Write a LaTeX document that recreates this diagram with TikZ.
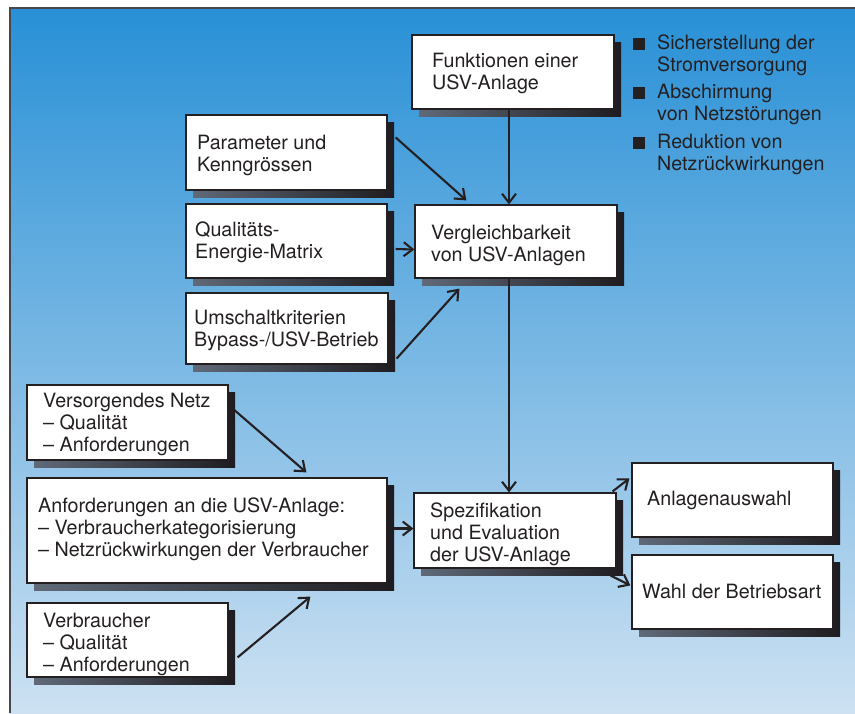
\documentclass[tikz,border=0pt]{standalone}
\usepackage{fontspec}
\setmainfont{TeX Gyre Heros}
\usetikzlibrary{arrows.meta,fit,calc}
\definecolor{txtc}{RGB}{36,32,34}
\definecolor{framec}{RGB}{70,70,75}
\definecolor{bgtop}{RGB}{40,144,214}
\definecolor{bgmid}{RGB}{90,176,232}
\definecolor{bgbot}{RGB}{205,225,242}
\definecolor{shadl}{RGB}{95,105,120}
\definecolor{shadr}{RGB}{30,28,32}
\newcommand\uvbox[5]{%
  \shade[left color=shadl, right color=shadr] (#2+7,#3+7) rectangle (#4+7,#5+7);
  \node[box, fit={(#2,#3) (#4,#5)}] (#1) {};
}
\begin{document}
\begin{tikzpicture}[x=1pt,y=-1pt,
  box/.style={draw=txtc, line width=1.2pt, fill=white, inner sep=0pt},
  tx/.style={anchor=north west, inner sep=0pt, align=left, text=txtc,
    font=\fontsize{19.7}{22}\selectfont, execute at begin node=\strut},
  arr/.style={draw=txtc, line width=2.1pt,
    -{Straight Barb[length=9pt,width=14pt,line width=2.1pt]}},
  bullet/.style={fill=txtc, inner sep=0pt, minimum size=12pt}
]
\useasboundingbox (0,0) rectangle (855,713);
\fill[white] (0,0) rectangle (855,713);
\shade[top color=bgtop, middle color=bgmid, bottom color=bgbot] (10,8) rectangle (855,713);
\draw[framec, line width=1.5pt] (10,713) -- (10,8) -- (855,8);

% boxes
\uvbox{func}{412}{35}{614}{109}
\uvbox{param}{186}{115}{387}{190}
\uvbox{qual}{186}{204}{387}{278}
\uvbox{verg}{415}{205}{617}{278}
\uvbox{umsch}{186}{293}{388}{364}
\uvbox{vers}{27}{385}{228}{460}
\uvbox{anf}{27}{478}{387}{583}
\uvbox{spez}{414}{493}{616}{568}
\uvbox{anl}{632}{463}{833}{537}
\uvbox{wahl}{632}{555}{833}{629}
\uvbox{verbr}{27}{603}{228}{677}

% texts
\node[tx] (funct) at (432,52.6) {Funktionen einer\\USV-Anlage};
\node[tx] (paramt) at (197,134.6) {Parameter und\\Kenngrössen};
\node[tx] (qualt) at (195,221.6) {Qualitäts-\\Energie-Matrix};
\node[tx] (vergt) at (431,224.6) {Vergleichbarkeit\\von USV-Anlagen};
\node[tx] (umscht) at (194,309.6) {Umschaltkriterien\\Bypass-/USV-Betrieb};
\node[tx] (verst) at (43,392.6) {Versorgendes Netz\\– Qualität\\– Anforderungen};
\node[tx] (anft) at (38,497.6) {Anforderungen an die USV-Anlage:\\– Verbraucherkategorisierung\\– Netzrückwirkungen der Verbraucher};
\node[tx] (spezt) at (430,502.6) {Spezifikation\\und Evaluation\\der USV-Anlage};
\node[tx] (anlt) at (647,489.6) {Anlagenauswahl};
\node[tx] (wahlt) at (642,582.6) {Wahl der Betriebsart};
\node[tx] (verbrt) at (43,612.6) {Verbraucher\\– Qualität\\– Anforderungen};

% bullet list
\node[bullet] (b1) at (638.5,44) {};
\node[bullet] (b2) at (638.5,93) {};
\node[bullet] (b3) at (638.5,143) {};
\node[tx] (b1t) at (657,34.6) {Sicherstellung der\\Stromversorgung};
\node[tx] (b2t) at (657,83.6) {Abschirmung\\von Netzstörungen};
\node[tx] (b3t) at (657,133.6) {Reduktion von\\Netzrückwirkungen};

% arrows
\draw[arr] ([shift={(-4,0)}]func.south) -- ([shift={(-4,0)}]func.south |- verg.north);
\draw[arr] ([shift={(8,23)}]param.north east) -- ([shift={(52,-4)}]verg.north west);
\draw[arr] ([shift={(8,8)}]qual.east) -- ([shift={(0,8)}]verg.west);
\draw[arr] ([shift={(8,-6)}]umsch.south east) -- ([shift={(45,10)}]verg.south west);
\draw[arr] ([shift={(-7,0)}]verg.south) -- ([shift={(-7,0)}]verg.south |- spez.north);
\draw[arr] ([shift={(5,25)}]vers.north east) -- ([shift={(280,-5)}]anf.north west);
\draw[arr] ([shift={(9,55)}]verbr.north east) -- ([shift={(284,13)}]anf.south west);
\draw[arr] ([shift={(6,-2)}]anf.east) -- ([shift={(0,-2)}]spez.west);
\draw[arr] ([shift={(-4,-1)}]spez.north east) -- ([shift={(-2,16)}]anl.north west);
\draw[arr] ([shift={(-6,7)}]spez.south east) -- ([shift={(-1,31)}]wahl.north west);
\end{tikzpicture}
\end{document}
